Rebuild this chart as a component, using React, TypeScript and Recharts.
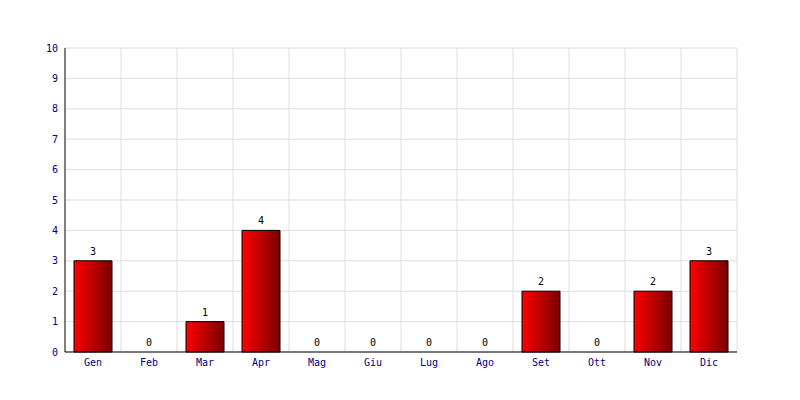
import { Bar, CartesianGrid, ComposedChart, LabelList, Line, XAxis, YAxis } from 'recharts';

const months = ['Gen', 'Feb', 'Mar', 'Apr', 'Mag', 'Giu', 'Lug', 'Ago', 'Set', 'Ott', 'Nov', 'Dic'];
const counts = [3, 0, 1, 4, 0, 0, 0, 0, 2, 0, 2, 3];
const yTicks = [0, 1, 2, 3, 4, 5, 6, 7, 8, 9, 10];

const data = months.map((m, i) => ({ month: m, value: counts[i] }));

const font = '"DejaVu Sans Mono", monospace';

export default function App() {
  return (
    <div style={{ position: 'absolute', left: 0, top: 0, width: 800, height: 400, background: '#fff' }}>
      <ComposedChart width={800} height={400} data={data} margin={{ top: 48, right: 63, bottom: 28, left: 25 }}>
        <defs>
          <linearGradient id="barFill" x1="0" y1="0" x2="1" y2="0">
            <stop offset="0%" stopColor="#ff0000" />
            <stop offset="100%" stopColor="#7a0000" />
          </linearGradient>
        </defs>
        <CartesianGrid
          stroke="#dddddd"
          verticalCoordinatesGenerator={({ offset }: any) =>
            months.map((_, i) => offset.left + ((i + 1) * offset.width) / months.length)
          }
        />
        <XAxis
          dataKey="month"
          height={20}
          tickLine={false}
          tickSize={0}
          tickMargin={7}
          stroke="#000"
          tick={{ fill: '#000080', fontSize: 10, fontFamily: font }}
        />
        <YAxis
          domain={[0, 10]}
          ticks={yTicks}
          width={40}
          tickLine={false}
          tickSize={0}
          tickMargin={7}
          interval={0}
          stroke="#000"
          tick={{ fill: '#000080', fontSize: 10, fontFamily: font }}
        />
        <Bar dataKey="value" barSize={38} fill="url(#barFill)" stroke="#000" strokeWidth={1} isAnimationActive={false} />
        {/* invisible line only carries the value labels, so zeros get one too */}
        <Line dataKey="value" stroke="none" dot={false} activeDot={false} legendType="none" isAnimationActive={false}>
          <LabelList dataKey="value" position="top" offset={6} fill="#000" fontSize={10} fontFamily={font} />
        </Line>
      </ComposedChart>
    </div>
  );
}
